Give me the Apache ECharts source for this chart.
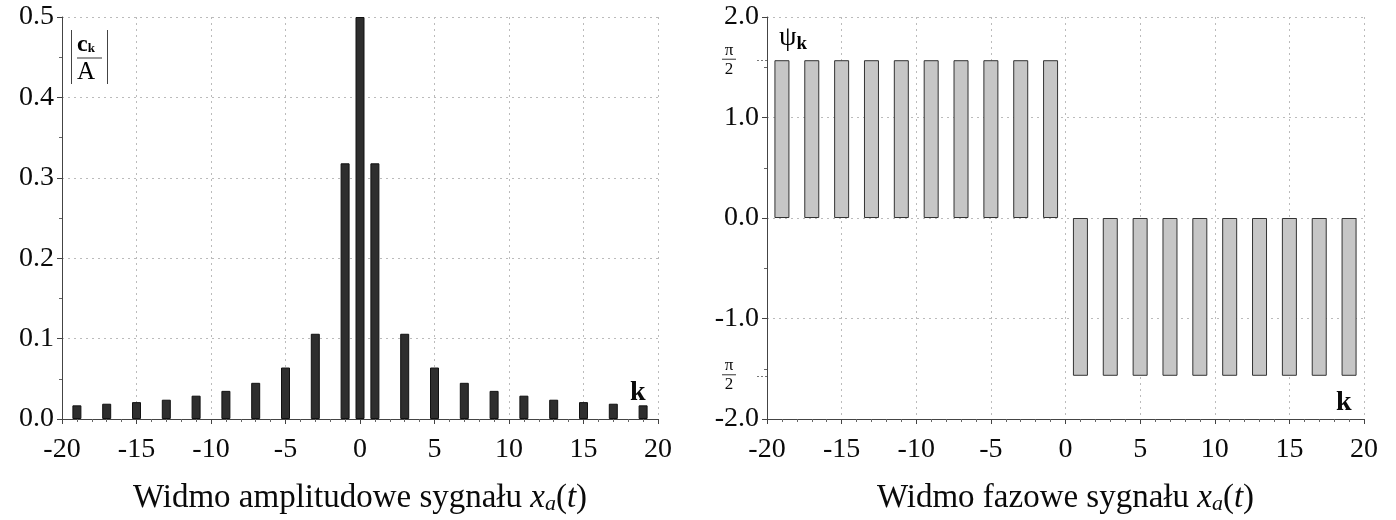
<!DOCTYPE html>
<html>
<head>
<meta charset="utf-8">
<script src="https://cdn.jsdelivr.net/npm/echarts@6/dist/echarts.min.js"></script>
<style>
  html, body { margin: 0; padding: 0; background: #fff; }
  #chart { width: 1396px; height: 520px; }
</style>
</head>
<body>
<div id="chart"></div>
<script>
// dane
var kAmp = [-19,-17,-15,-13,-11,-9,-7,-5,-3,-1,0,1,3,5,7,9,11,13,15,17,19];
var ampValues = [0.017,0.019,0.021,0.024,0.029,0.035,0.045,0.064,0.106,0.318,0.5,
                 0.318,0.106,0.064,0.045,0.035,0.029,0.024,0.021,0.019,0.017];
var kPhase = [-19,-17,-15,-13,-11,-9,-7,-5,-3,-1,1,3,5,7,9,11,13,15,17,19];
var phaseValues = [1.57,1.57,1.57,1.57,1.57,1.57,1.57,1.57,1.57,1.57,
                   -1.57,-1.57,-1.57,-1.57,-1.57,-1.57,-1.57,-1.57,-1.57,-1.57];
var piTicks = [-1.57, 1.57];

var SERIF = "'Liberation Serif','DejaVu Serif',serif";
var INK = '#0a0a0a';

function pairs(xs, ys){
    var out = [];
    for (var i = 0; i < xs.length; i++) out.push([xs[i], ys[i]]);
    return out;
}

function titleRich(){
    return {
        t: {fontFamily: SERIF, fontSize: 33, color: INK},
        i: {fontFamily: SERIF, fontSize: 33, fontStyle: 'italic', color: INK},
        s: {fontFamily: SERIF, fontSize: 22, fontStyle: 'italic', color: INK, padding: [11,0,0,0]}
    };
}

function xAxisCfg(gridIndex, title){
    return {
        type: 'value', gridIndex: gridIndex,
        min: -20, max: 20, interval: 5,
        axisLine: {onZero: false, lineStyle: {color: '#444', width: 1}},
        axisTick: {show: true, length: 5, lineStyle: {color: '#444'}},
        minorTick: {show: true, splitNumber: 5, length: 3, lineStyle: {color: '#666'}},
        axisLabel: {fontFamily: SERIF, fontSize: 28, color: INK, margin: 17},
        splitLine: {show: true, lineStyle: {color: '#bbb', type: [2, 4], width: 1}},
        name: title, nameLocation: 'middle', nameGap: 63,
        nameTextStyle: {rich: titleRich()}
    };
}

var fracRich = {
    n: {fontFamily: SERIF, fontSize: 17, color: INK, align: 'center', lineHeight: 15},
    l: {width: 14, height: 1, lineHeight: 3, backgroundColor: '#333', align: 'center'},
    d: {fontFamily: SERIF, fontSize: 17, color: INK, align: 'center', lineHeight: 17}
};

var myChart = echarts.init(document.getElementById('chart'));
var option = {
    backgroundColor: '#fff',
    animation: false,
    grid: [
        {left: 62, top: 17, width: 596, height: 408, containLabel: false},
        {left: 767, top: 17, width: 597, height: 407, containLabel: false}
    ],
    xAxis: [
        xAxisCfg(0, '{t|Widmo amplitudowe sygnału }{i|x}{s|a}{t|(}{i|t}{t|)}'),
        xAxisCfg(1, '{t|Widmo fazowe sygnału }{i|x}{s|a}{t|(}{i|t}{t|)}')
    ],
    yAxis: [
        {
            type: 'value', gridIndex: 0, min: 0, max: 0.5, interval: 0.1,
            axisLine: {show: true, onZero: false, lineStyle: {color: '#444'}},
            axisTick: {show: true, length: 5, lineStyle: {color: '#444'}},
            minorTick: {show: true, splitNumber: 2, length: 3, lineStyle: {color: '#666'}},
            axisLabel: {fontFamily: SERIF, fontSize: 28, color: INK, margin: 8,
                        formatter: function(v){ return v.toFixed(1); }},
            splitLine: {show: true, lineStyle: {color: '#bbb', type: [2, 4]}}
        },
        {
            type: 'value', gridIndex: 1, min: -2, max: 2, interval: 1,
            axisLine: {show: true, onZero: false, lineStyle: {color: '#444'}},
            axisTick: {show: true, length: 5, lineStyle: {color: '#444'}},
            minorTick: {show: true, splitNumber: 2, length: 3, lineStyle: {color: '#666'}},
            axisLabel: {fontFamily: SERIF, fontSize: 28, color: INK, margin: 8,
                        formatter: function(v){ return v.toFixed(1); }},
            splitLine: {show: true, lineStyle: {color: '#bbb', type: [2, 4]}}
        },
        {
            // etykiety pi/2
            type: 'value', gridIndex: 1, min: -2, max: 2, position: 'left',
            axisLine: {show: false, onZero: false},
            axisTick: {show: true, length: 10, customValues: piTicks,
                       lineStyle: {color: '#777', type: [2, 2]}},
            axisLabel: {show: true, customValues: piTicks, margin: 31,
                        formatter: function(){ return '{n|π}\n{l|}\n{d|2}'; },
                        rich: fracRich},
            splitLine: {show: false}
        }
    ],
    series: [
        {
            name: 'amplituda', type: 'bar', xAxisIndex: 0, yAxisIndex: 0,
            barWidth: 9,
            itemStyle: {color: '#2e2e2e', borderColor: '#111', borderWidth: 1},
            data: pairs(kAmp, ampValues)
        },
        {
            name: 'faza', type: 'bar', xAxisIndex: 1, yAxisIndex: 1,
            barWidth: 15,
            itemStyle: {color: '#c6c6c6', borderColor: '#333', borderWidth: 1},
            data: pairs(kPhase, phaseValues)
        }
    ],
    graphic: [
        // |c_k / A|
        {type: 'rect', left: 71, top: 30, shape: {width: 1, height: 54}, style: {fill: '#444'}},
        {type: 'rect', left: 107, top: 30, shape: {width: 1, height: 54}, style: {fill: '#444'}},
        {type: 'text', left: 77, top: 33, style: {
            text: '{c|c}{k|k}\n{l|}\n{a|A}', rich: {
                c: {fontFamily: SERIF, fontSize: 24, fontWeight: 'bold', color: INK, lineHeight: 22},
                k: {fontFamily: SERIF, fontSize: 13, fontWeight: 'bold', color: INK, padding: [7,0,0,0]},
                l: {width: 25, height: 1, lineHeight: 4, backgroundColor: '#333'},
                a: {fontFamily: SERIF, fontSize: 25, color: INK, lineHeight: 24}
            }}},
        {type: 'text', left: 630, top: 379, style: {
            text: 'k', fontFamily: SERIF, fontSize: 28, fontWeight: 'bold', fill: INK}},
        // psi_k
        {type: 'text', left: 779, top: 24, style: {
            text: '{p|ψ}{k|k}', rich: {
                p: {fontFamily: SERIF, fontSize: 28, color: INK},
                k: {fontFamily: SERIF, fontSize: 19, fontWeight: 'bold', color: INK, padding: [12,0,0,0]}
            }}},
        {type: 'text', left: 1336, top: 389, style: {
            text: 'k', fontFamily: SERIF, fontSize: 28, fontWeight: 'bold', fill: INK}}
    ]
};
myChart.setOption(option);
</script>
</body>
</html>
